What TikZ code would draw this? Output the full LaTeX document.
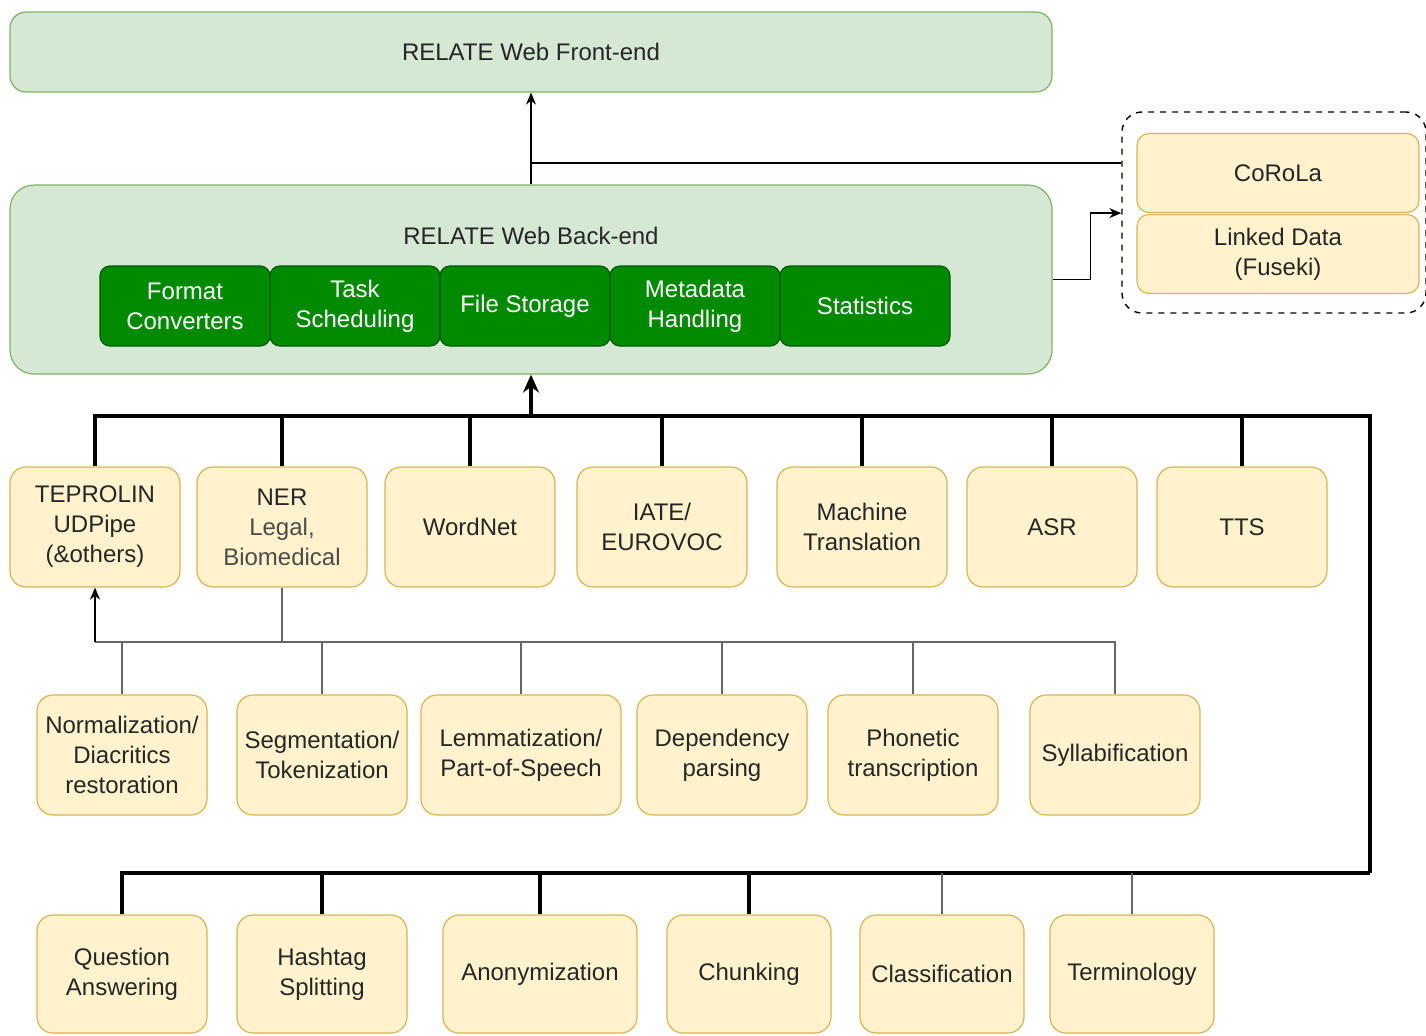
\documentclass[tikz,border=0pt]{standalone}
\usepackage{fontspec}
\setmainfont{Liberation Sans}
\definecolor{rel_green}{HTML}{D5E8D4}
\definecolor{rel_greenline}{HTML}{82B366}
\definecolor{rel_dark}{HTML}{008A00}
\definecolor{rel_darkline}{HTML}{005700}
\definecolor{rel_yellow}{HTML}{FFF2CC}
\definecolor{rel_yellowline}{HTML}{D6B656}
\definecolor{rel_text}{HTML}{262626}
\usetikzlibrary{arrows.meta}

\begin{document}
\begin{tikzpicture}[x=0.5pt, y=-0.5pt,
      every node/.style={font=\fontsize{12}{15}\selectfont, text=rel_text},
      layer/.style={rectangle, rounded corners=8pt, draw=rel_greenline,
                    fill=rel_green, minimum width=521pt, line width=0.6pt},
      modul/.style={rectangle, rounded corners=5pt, draw=rel_darkline,
                    fill=rel_dark, text=white, minimum width=85pt,
                    minimum height=40pt, align=center, line width=0.6pt},
      tool/.style={rectangle, rounded corners=8pt, draw=rel_yellowline,
                   fill=rel_yellow, minimum width=85pt,
                   minimum height=60pt, align=center, line width=0.6pt},
      store/.style={rectangle, rounded corners=6pt, draw=rel_yellowline,
                    fill=rel_yellow, minimum width=141pt,
                    minimum height=39.5pt, align=center, line width=0.6pt},
      arr/.style={-{Stealth[length=6pt, width=5pt]}, line width=0.8pt},
      bus/.style={line width=2.2pt},
      busarr/.style={-{Stealth[length=9pt, width=8pt]}, line width=2.2pt},
      sub/.style={line width=1pt, black!60},
      subarr/.style={-{Stealth[length=6pt, width=5pt]}, line width=1.2pt},
    ]
      \useasboundingbox (0,0) rectangle (1426,1035);

      % web layers
      \node[layer, minimum height=40pt] (front) at (531,52)
            {RELATE Web Front-end};
      \node[layer, minimum height=94.5pt, rounded corners=12pt] (back)
            at (531,279.5) {};
      \node (backlbl) at (531,236) {RELATE Web Back-end};

      \node[modul] (fmt)  at (185,306) {Format\\Converters};
      \node[modul] (task) at (355,306) {Task\\Scheduling};
      \node[modul] (file) at (525,306) {File Storage};
      \node[modul] (meta) at (695,306) {Metadata\\Handling};
      \node[modul] (stat) at (865,306) {Statistics};

      % external resources
      \node[rectangle, draw, dashed, rounded corners=10pt, line width=0.7pt,
            minimum width=152pt, minimum height=100.5pt] (grp)
            at (1274,212.5) {};
      \node[store] (corola) at (1278,173) {CoRoLa};
      \node[store] (linked) at (1278,254) {Linked Data\\(Fuseki)};

      % first row of tools
      \node[tool] (tep)  at (95,527)   {TEPROLIN\\UDPipe\\(\&others)};
      \node[tool] (ner)  at (282,527)
            {NER\\{\color{black!70}Legal,}\\{\color{black!70}Biomedical}};
      \node[tool] (wn)   at (470,527)  {WordNet};
      \node[tool] (iate) at (662,527)  {IATE/\\EUROVOC};
      \node[tool] (mt)   at (862,527)  {Machine\\Translation};
      \node[tool] (asr)  at (1052,527) {ASR};
      \node[tool] (tts)  at (1242,527) {TTS};

      % second row
      \node[tool] (norm)  at (122,755)
            {Normalization/\\Diacritics\\restoration};
      \node[tool] (seg)   at (322,755)  {Segmentation/\\Tokenization};
      \node[tool, minimum width=100pt] (lem) at (521,755)
            {Lemmatization/\\Part-of-Speech};
      \node[tool] (dep)   at (722,755)  {Dependency\\parsing};
      \node[tool] (phon)  at (913,755)  {Phonetic\\transcription};
      \node[tool] (syl)   at (1115,755) {Syllabification};

      % third row
      \node[tool, minimum height=59pt] (qa)   at (122,974)
            {Question\\Answering};
      \node[tool, minimum height=59pt] (hash) at (322,974)
            {Hashtag\\Splitting};
      \node[tool, minimum height=59pt, minimum width=97pt] (anon)
            at (540,974) {Anonymization};
      \node[tool, minimum height=59pt, minimum width=82pt] (chunk)
            at (749,974) {Chunking};
      \node[tool, minimum height=59pt, minimum width=82pt] (class)
            at (942,974) {Classification};
      \node[tool, minimum height=59pt, minimum width=82pt] (term)
            at (1132,974) {Terminology};

      \coordinate (hub)   at (531,416);
      \coordinate (loopR) at (1370,873);
      \coordinate (mid)   at (95,642);
      \coordinate (split) at (531,163);

      % back-end links
      \draw[arr] (back.north) -- (front.south);
      \draw[line width=0.8pt] (split) -- (split -| grp.west);
      \draw[arr] (back.east) -- ++(38,0) |- (grp.west |- corola.south);

      % tools to back-end
      \foreach \t in {tep, ner, wn, iate, mt, asr, tts}
        \draw[bus] (\t.north) |- (hub);
      \foreach \t in {qa, hash, anon, chunk}
        \draw[bus] (\t.north) |- (loopR);
      \draw[sub] (class.north) -- (class.north |- loopR);
      \draw[sub] (term.north) -- (term.north |- loopR);
      \draw[bus] (loopR) |- (hub);
      \draw[busarr] (hub) -- (back.south);

      % second row to TEPROLIN
      \foreach \t in {norm, seg, lem, dep, phon, syl}
        \draw[sub] (\t.north) |- (mid);
      \draw[sub] (ner.south) -- (ner.south |- mid);
      \draw[subarr] (mid) -- (tep.south);
    \end{tikzpicture}
\end{document}
